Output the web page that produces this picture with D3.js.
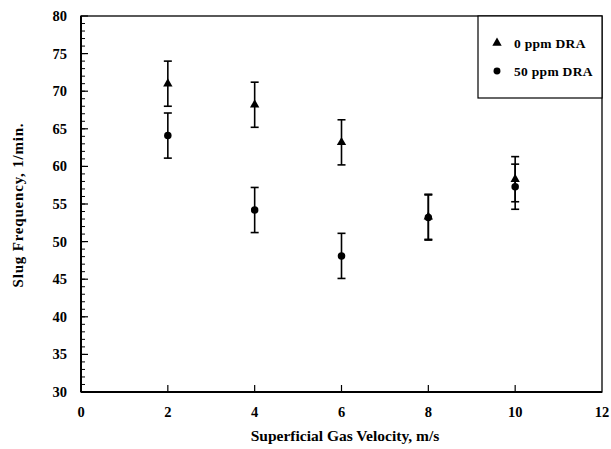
<!DOCTYPE html>
<html>
<head>
<meta charset="utf-8">
<script src="https://cdn.jsdelivr.net/npm/d3@7"></script>
<style>
  body { margin: 0; background: #fff; }
  text { font-family: "Liberation Serif", "Times New Roman", serif; font-weight: bold; fill: #000; }
</style>
</head>
<body>
<div id="chart"></div>
<script>
// gas velocity (m/s)
const velocity = [2, 4, 6, 8, 10];
// slug frequency (1/min) and error half-width
const freq0ppm = [71.0, 68.2, 63.2, 53.3, 58.3];
const freq50ppm = [64.1, 54.2, 48.1, 53.2, 57.3];
const errBar = [3, 3, 3, 3, 3];
const seriesNames = ["0 ppm DRA", "50 ppm DRA"];
const xTicks = [0, 2, 4, 6, 8, 10, 12];
const yTicks = [30, 35, 40, 45, 50, 55, 60, 65, 70, 75, 80];

const W = 611, H = 449;
const margin = {top: 16, right: 9, bottom: 57, left: 81};

let svg = d3.select("#chart").append("svg")
    .attr("width", W)
    .attr("height", H);

let x = d3.scaleLinear().domain([0, 12]).range([margin.left, W - margin.right]);
let y = d3.scaleLinear().domain([30, 80]).range([H - margin.bottom, margin.top]);

// frame
svg.append("rect")
    .attr("x", x(0)).attr("y", y(80))
    .attr("width", x(12) - x(0)).attr("height", y(30) - y(80))
    .attr("fill", "none").attr("stroke", "#000").attr("stroke-width", 1.3);
svg.append("line")
    .attr("x1", x(0)).attr("x2", x(0)).attr("y1", y(80)).attr("y2", y(30))
    .attr("stroke", "#000").attr("stroke-width", 2);
svg.append("line")
    .attr("x1", x(0)).attr("x2", x(12)).attr("y1", y(30)).attr("y2", y(30))
    .attr("stroke", "#000").attr("stroke-width", 2);

// y ticks, minor every 1, pointing inward
let yMinor = d3.range(31, 80);
svg.selectAll(".yminor").data(yMinor).enter().append("line")
    .attr("class", "yminor")
    .attr("x1", x(0)).attr("x2", x(0) + 4)
    .attr("y1", d => y(d)).attr("y2", d => y(d))
    .attr("stroke", "#000").attr("stroke-width", 1);
svg.selectAll(".ymajor").data(yTicks).enter().append("line")
    .attr("class", "ymajor")
    .attr("x1", x(0)).attr("x2", x(0) + 7)
    .attr("y1", d => y(d)).attr("y2", d => y(d))
    .attr("stroke", "#000").attr("stroke-width", 1.2);
svg.selectAll(".ylab").data(yTicks).enter().append("text")
    .attr("class", "ylab")
    .attr("x", x(0) - 14).attr("y", d => y(d) + 5)
    .attr("text-anchor", "end").style("font-size", "14.5px")
    .text(d => d);

// x ticks
svg.selectAll(".xmajor").data(xTicks.slice(1, -1)).enter().append("line")
    .attr("class", "xmajor")
    .attr("x1", d => x(d)).attr("x2", d => x(d))
    .attr("y1", y(30)).attr("y2", y(30) - 7)
    .attr("stroke", "#000").attr("stroke-width", 1.2);
svg.selectAll(".xlab").data(xTicks).enter().append("text")
    .attr("class", "xlab")
    .attr("x", d => x(d)).attr("y", y(30) + 25)
    .attr("text-anchor", "middle").style("font-size", "14.5px")
    .text(d => d);

// axis titles
svg.append("text")
    .attr("x", 345).attr("y", 441)
    .attr("text-anchor", "middle").style("font-size", "15.5px")
    .text("Superficial Gas Velocity, m/s");
svg.append("text")
    .attr("transform", "translate(23,205) rotate(-90)")
    .attr("text-anchor", "middle").style("font-size", "15px")
    .style("letter-spacing", "0.8px")
    .text("Slug Frequency, 1/min.");

// error bars + markers
function drawSeries(vals, marker) {
    let g = svg.append("g");
    let pts = velocity.map((v, i) => ({v: v, f: vals[i], e: errBar[i]}));
    let eb = g.selectAll("g").data(pts).enter().append("g");
    eb.append("line")
        .attr("x1", d => x(d.v)).attr("x2", d => x(d.v))
        .attr("y1", d => y(d.f + d.e)).attr("y2", d => y(d.f - d.e))
        .attr("stroke", "#000").attr("stroke-width", 1.6);
    eb.append("line")
        .attr("x1", d => x(d.v) - 4).attr("x2", d => x(d.v) + 4)
        .attr("y1", d => y(d.f + d.e)).attr("y2", d => y(d.f + d.e))
        .attr("stroke", "#000").attr("stroke-width", 1.6);
    eb.append("line")
        .attr("x1", d => x(d.v) - 4).attr("x2", d => x(d.v) + 4)
        .attr("y1", d => y(d.f - d.e)).attr("y2", d => y(d.f - d.e))
        .attr("stroke", "#000").attr("stroke-width", 1.6);
    eb.append("path")
        .attr("transform", d => "translate(" + x(d.v) + "," + y(d.f) + ")")
        .attr("d", d3.symbol().type(marker).size(marker === d3.symbolTriangle ? 38 : 44))
        .attr("fill", "#000");
}
drawSeries(freq0ppm, d3.symbolTriangle);
drawSeries(freq50ppm, d3.symbolCircle);

// legend
let lg = svg.append("g");
lg.append("rect")
    .attr("x", 478).attr("y", y(80))
    .attr("width", x(12) - 478).attr("height", 98 - y(80))
    .attr("fill", "#fff").attr("stroke", "#000").attr("stroke-width", 1.2);
let markers = [d3.symbolTriangle, d3.symbolCircle];
seriesNames.forEach((name, i) => {
    let ly = 43 + i * 28;
    lg.append("path")
        .attr("transform", "translate(497," + ly + ")")
        .attr("d", d3.symbol().type(markers[i]).size(38))
        .attr("fill", "#000");
    lg.append("text")
        .attr("x", 514).attr("y", ly + 4.5)
        .style("font-size", "13.5px")
        .style("letter-spacing", "0.3px")
        .text(name);
});
</script>
</body>
</html>
